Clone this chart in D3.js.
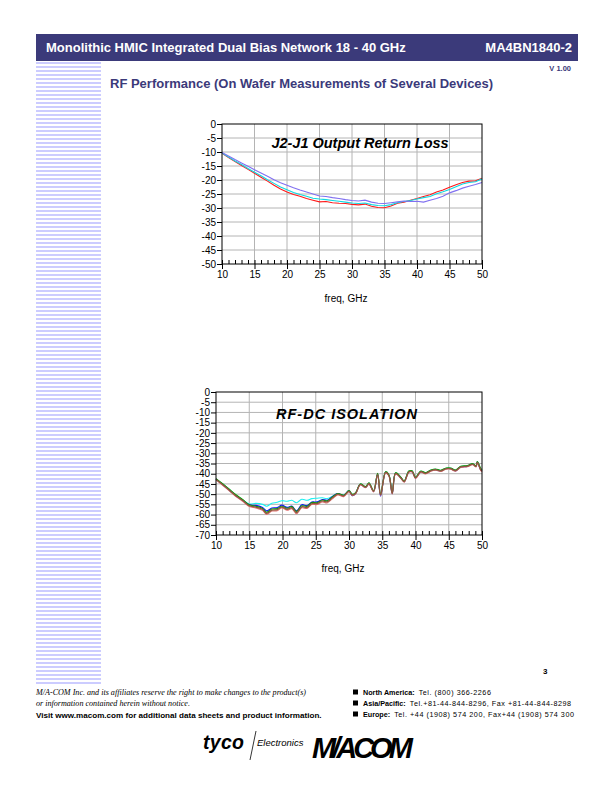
<!DOCTYPE html>
<html>
<head>
<meta charset="utf-8">
<script src="https://cdn.jsdelivr.net/npm/d3@7"></script>
<style>
  body { margin: 0; background: white; }
  svg { display: block; }
</style>
</head>
<body>
<div id="page"></div>
<script>
// ---- data ----
const rlFreq = [10,11,12,13,14,15,16,17,18,19,20,21,22,23,24,25,26,27,28,29,30,
  31,32,33,34,35,36,37,38,39,40,41,42,43,44,45,46,47,48,49,50];
const rlRed = [-10.5,-12,-13.4,-14.8,-16.2,-17.6,-19,-20.4,-21.9,-23.2,-24.3,-25.2,-25.8,-26.6,-27.2,-27.8,-27.7,-28.1,-28.3,-28.4,-28.7,
  -28.9,-28.6,-29.4,-29.8,-29.9,-29.3,-28.3,-27.9,-27.2,-26.6,-25.9,-25.3,-24.3,-23.6,-22.6,-21.7,-20.9,-20.4,-20.3,-19.4];
const rlCyan = [-10.4,-11.8,-13.2,-14.5,-15.9,-17.2,-18.5,-19.9,-21.2,-22.5,-23.5,-24.5,-25.2,-25.8,-26.5,-26.8,-27,-27.3,-27.6,-27.9,-28.2,
  -28.4,-28.2,-28.8,-29.1,-29.2,-28.8,-28.1,-27.7,-27.3,-26.8,-26.3,-25.9,-24.9,-24.2,-23.4,-22.4,-21.4,-20.9,-20.6,-19.6];
const rlPurple = [-10.2,-11.4,-12.7,-13.9,-15.1,-16.3,-17.5,-18.7,-19.9,-21,-21.9,-22.8,-23.6,-24.3,-25,-25.7,-25.9,-26.3,-26.6,-27,-27.3,
  -27.5,-27.2,-27.9,-28.3,-28.4,-28.1,-27.8,-27.5,-27.7,-27.6,-27.9,-27.2,-26.6,-25.8,-24.6,-23.8,-22.9,-22.2,-21.6,-20.9];

const isoFreq = [10,11,12,13,14,15,16,17,17.6,18.4,19.2,19.9,20.7,21.4,22.1,22.9,23.7,24.4,25.2,26,26.7,27.5,28.3,29.2,
  30,30.5,31,31.7,32.5,33,33.7,34.3,34.75,35.5,36,36.5,37,37.8,38.3,39,39.5,40,40.8,41.5,42.3,43,43.8,44.6,45.3,46,46.8,47.8,48.6,49.1,49.3,49.8,50];
const isoCyan = [-42.5,-45,-47.7,-50.5,-52.8,-54.8,-54.5,-55,-55.9,-54.5,-54,-53.2,-53.5,-53,-54.2,-52.5,-53,-52.2,-52,-51.8,-52.2,-51,-49.8,-50.5,
  -48.2,-50.2,-49.4,-45,-46.4,-44.6,-48.4,-40,-50.2,-39.1,-40.6,-49.4,-39.6,-41.8,-43.6,-38.8,-38.7,-41.8,-38.8,-39.6,-38.3,-37.8,-38.4,-37.3,-37.3,-38.3,-36.5,-36.1,-35.1,-36.2,-34.1,-37.8,-38.3];
const isoBlue = [-42.8,-45.4,-48.1,-50.9,-53.1,-55.2,-55.5,-56.5,-58.2,-56.8,-56.6,-55.4,-56.5,-55.8,-58.2,-55.2,-55.6,-53.9,-53.8,-52.6,-53,-51.2,-49.7,-50.6,
  -48.4,-50.8,-49.7,-45.3,-46.7,-44.9,-48.7,-40.3,-51,-39.4,-40.9,-49.8,-39.9,-42.1,-43.9,-39.1,-39,-42.1,-39.1,-39.9,-38.6,-38.1,-38.7,-37.6,-37.6,-38.6,-36.8,-36.4,-35.4,-36.5,-34.4,-38.2,-38.7];
const isoGreen = [-42.4,-44.9,-47.6,-50.3,-52.6,-55.2,-55.9,-57,-58.9,-57.3,-57.1,-55.9,-56.9,-56.1,-58.5,-55.7,-56,-54.1,-54.2,-52.9,-53.3,-51.4,-49.7,-50.5,
  -48.3,-50.1,-49.3,-45,-46.3,-44.5,-48.3,-39.8,-50.1,-39,-40.5,-49.2,-39.5,-41.7,-43.5,-38.7,-38.6,-41.7,-38.7,-39.5,-38.2,-37.7,-38.3,-37.2,-37.2,-38.2,-36.4,-36,-35,-36.1,-34,-37.3,-38];
const isoPink = [-43,-45.7,-48.4,-51.2,-53.5,-56.1,-56.8,-57.9,-59.9,-58.3,-58.1,-56.8,-57.9,-57.1,-59.6,-56.7,-57,-55.1,-55.1,-53.8,-54.3,-52.3,-50.4,-51.2,
  -48.8,-50.7,-49.9,-45.5,-46.9,-45.1,-48.9,-40.5,-50.6,-39.6,-41.1,-49.9,-40.1,-42.3,-44.1,-39.3,-39.2,-42.3,-39.3,-40.1,-38.8,-38.3,-38.9,-37.8,-37.8,-38.8,-37,-36.6,-35.6,-36.7,-34.6,-38.4,-39];
const isoBrown = [-42.7,-45.3,-48,-50.8,-53,-55.6,-56.3,-57.4,-59.4,-57.8,-57.6,-56.3,-57.4,-56.6,-59,-56.2,-56.5,-54.6,-54.6,-53.3,-53.8,-51.8,-50,-50.8,
  -48.5,-50.4,-49.6,-45.2,-46.6,-44.8,-48.6,-40.2,-50.4,-39.3,-40.8,-49.6,-39.8,-42,-43.8,-39,-38.9,-42,-39,-39.8,-38.5,-38,-38.6,-37.5,-37.5,-38.5,-36.7,-36.3,-35.3,-36.4,-34.3,-38,-38.5];

const xTicks = [10,15,20,25,30,35,40,45,50];
const rlTicks = [0,-5,-10,-15,-20,-25,-30,-35,-40,-45,-50];
const isoTicks = [0,-5,-10,-15,-20,-25,-30,-35,-40,-45,-50,-55,-60,-65,-70];

const contacts = [
  ["North America:", "Tel. (800) 366-2266"],
  ["Asia/Pacific:", "Tel.+81-44-844-8296,  Fax +81-44-844-8298"],
  ["Europe:", "Tel. +44 (1908) 574 200,  Fax+44 (1908) 574 300"]
];

// ---- page ----
const W = 612, H = 792;
const navy = "#3b3a7a";
const sans = "'Liberation Sans', Arial, Helvetica, sans-serif";

const svg = d3.select("#page").append("svg")
  .attr("width", W).attr("height", H)
  .attr("viewBox", [0, 0, W, H])
  .style("font-family", sans);

// header bar
svg.append("rect").attr("x", 36).attr("y", 34).attr("width", 542).attr("height", 27).attr("fill", navy);
svg.append("text").attr("x", 46).attr("y", 52).attr("fill", "white")
  .attr("font-size", 13).attr("font-weight", "bold")
  .text("Monolithic HMIC Integrated Dual Bias Network 18 - 40 GHz");
svg.append("text").attr("x", 572).attr("y", 52).attr("fill", "white")
  .attr("font-size", 13).attr("font-weight", "bold").attr("text-anchor", "end")
  .text("MA4BN1840-2");
svg.append("text").attr("x", 571).attr("y", 71).attr("fill", navy)
  .attr("font-size", 7.5).attr("font-weight", "bold").attr("text-anchor", "end")
  .text("V 1.00");
svg.append("text").attr("x", 110).attr("y", 87.5).attr("fill", navy)
  .attr("font-size", 13).attr("font-weight", "bold")
  .text("RF Performance (On Wafer Measurements of Several Devices)");

// left stripes
svg.append("g").selectAll("rect")
  .data(d3.range(62, 684, 4))
  .join("rect")
  .attr("x", 36).attr("y", (d) => d)
  .attr("width", 65).attr("height", 2)
  .attr("fill", "#ccccff");

// ---- charts ----
function drawChart(cfg) {
  const g = svg.append("g");
  const x = d3.scaleLinear().domain([10, 50]).range([cfg.left, cfg.right]);
  const y = d3.scaleLinear().domain([cfg.yMin, 0]).range([cfg.bottom, cfg.top]);

  // grid
  g.append("g").selectAll("line")
    .data(xTicks.slice(1, -1))
    .join("line")
    .attr("x1", (d) => x(d)).attr("x2", (d) => x(d))
    .attr("y1", cfg.top).attr("y2", cfg.bottom)
    .attr("stroke", "#b4b4b4");
  g.append("g").selectAll("line")
    .data(cfg.yTicks.slice(1, -1))
    .join("line")
    .attr("x1", cfg.left).attr("x2", cfg.right)
    .attr("y1", (d) => y(d)).attr("y2", (d) => y(d))
    .attr("stroke", "#b4b4b4");

  // series
  const line = d3.line()
    .x((d) => x(d[0]))
    .y((d) => y(d[1]))
    .curve(cfg.curve);
  cfg.series.forEach((s) => {
    g.append("path")
      .datum(cfg.freq.map((f, i) => [f, s.values[i]]))
      .attr("fill", "none")
      .attr("stroke", s.color)
      .attr("stroke-width", s.width || 1.1)
      .attr("d", line);
  });

  // frame
  g.append("rect")
    .attr("x", cfg.left).attr("y", cfg.top)
    .attr("width", cfg.right - cfg.left).attr("height", cfg.bottom - cfg.top)
    .attr("fill", "none").attr("stroke", "black");

  // y axis
  g.append("g")
    .attr("transform", `translate(${cfg.left},0)`)
    .call(d3.axisLeft(y).tickValues(cfg.yTicks).tickSize(5).tickPadding(1)
      .tickFormat((d) => String(d)))
    .call((a) => a.select(".domain").remove())
    .selectAll("text").attr("font-size", 10).attr("font-family", sans);

  // x axis: minor ticks inward, major ticks outward
  g.append("g")
    .attr("transform", `translate(0,${cfg.bottom})`)
    .call(d3.axisBottom(x).tickValues(rlFreq).tickSize(-4).tickFormat(""))
    .call((a) => a.select(".domain").remove());
  g.append("g")
    .attr("transform", `translate(0,${cfg.bottom})`)
    .call(d3.axisBottom(x).tickValues(xTicks).tickSize(5).tickPadding(2)
      .tickFormat((d) => String(d)))
    .call((a) => a.select(".domain").remove())
    .selectAll("text").attr("font-size", 10).attr("font-family", sans);

  // titles
  g.append("text")
    .attr("x", cfg.titleX).attr("y", cfg.titleY)
    .attr("text-anchor", "middle")
    .attr("font-size", 14.5).attr("font-weight", "bold").attr("font-style", "italic")
    .attr("letter-spacing", cfg.titleSpacing)
    .text(cfg.title);
  g.append("text")
    .attr("x", (cfg.left + cfg.right) / 2 - 6).attr("y", cfg.xLabelY)
    .attr("text-anchor", "middle")
    .attr("font-size", 10)
    .text("freq, GHz");
}

drawChart({
  left: 222, right: 482, top: 124, bottom: 264,
  yMin: -50, yTicks: rlTicks,
  freq: rlFreq,
  curve: d3.curveLinear,
  series: [
    { values: rlRed, color: "#ff1a1a" },
    { values: rlCyan, color: "#10d8e0" },
    { values: rlPurple, color: "#8070f0" }
  ],
  title: "J2-J1 Output Return Loss", titleX: 360, titleY: 148, titleSpacing: 0,
  xLabelY: 302
});

drawChart({
  left: 216, right: 482, top: 392, bottom: 535,
  yMin: -70, yTicks: isoTicks,
  freq: isoFreq,
  curve: d3.curveCatmullRom.alpha(0.5),
  series: [
    { values: isoCyan, color: "#20f0f0" },
    { values: isoBlue, color: "#1010ff" },
    { values: isoGreen, color: "#00a000" },
    { values: isoPink, color: "#e07070" },
    { values: isoBrown, color: "#8a5a3c", width: 1.3 }
  ],
  title: "RF-DC ISOLATION", titleX: 347, titleY: 419, titleSpacing: 1,
  xLabelY: 572
});

// ---- footer ----
svg.append("text").attr("x", 543).attr("y", 674)
  .attr("font-size", 8).attr("font-weight", "bold").text("3");

const serif = "'Liberation Serif', 'Times New Roman', serif";
svg.append("text").attr("x", 36).attr("y", 695)
  .attr("font-family", serif).attr("font-style", "italic").attr("font-size", 8.1)
  .text("M/A-COM Inc. and its affiliates reserve the right to make changes to the product(s)");
svg.append("text").attr("x", 36).attr("y", 706)
  .attr("font-family", serif).attr("font-style", "italic").attr("font-size", 8.1)
  .text("or information contained herein without notice.");
svg.append("text").attr("x", 36).attr("y", 718)
  .attr("font-size", 8.1).attr("font-weight", "bold")
  .text("Visit www.macom.com for additional data sheets and product information.");

const cg = svg.append("g").selectAll("g")
  .data(contacts)
  .join("g")
  .attr("transform", (d, i) => `translate(353,${695 + i * 11})`);
cg.append("rect").attr("x", 0).attr("y", -5.5).attr("width", 5).attr("height", 5).attr("fill", "black");
cg.append("text").attr("x", 10).attr("y", 0)
  .call((t) => t.append("tspan").attr("font-size", 7.2).attr("font-weight", "bold").text((d) => d[0]))
  .call((t) => t.append("tspan").attr("font-size", 7.2).attr("letter-spacing", 0.55)
    .attr("dx", 4).text((d) => d[1]));

// logos
svg.append("text").attr("x", 203).attr("y", 749)
  .attr("font-size", 19.5).attr("font-weight", "bold").attr("font-style", "italic")
  .attr("letter-spacing", 0.3)
  .text("tyco");
svg.append("line").attr("x1", 256).attr("y1", 731).attr("x2", 250).attr("y2", 760)
  .attr("stroke", "black").attr("stroke-width", 0.8);
svg.append("text").attr("x", 257).attr("y", 746)
  .attr("font-size", 9.5).attr("font-style", "italic")
  .text("Electronics");
svg.append("text").attr("x", 312).attr("y", 758)
  .attr("font-size", 29).attr("font-weight", "bold").attr("font-style", "italic")
  .attr("letter-spacing", -4)
  .text("M/ACOM");
</script>
</body>
</html>
